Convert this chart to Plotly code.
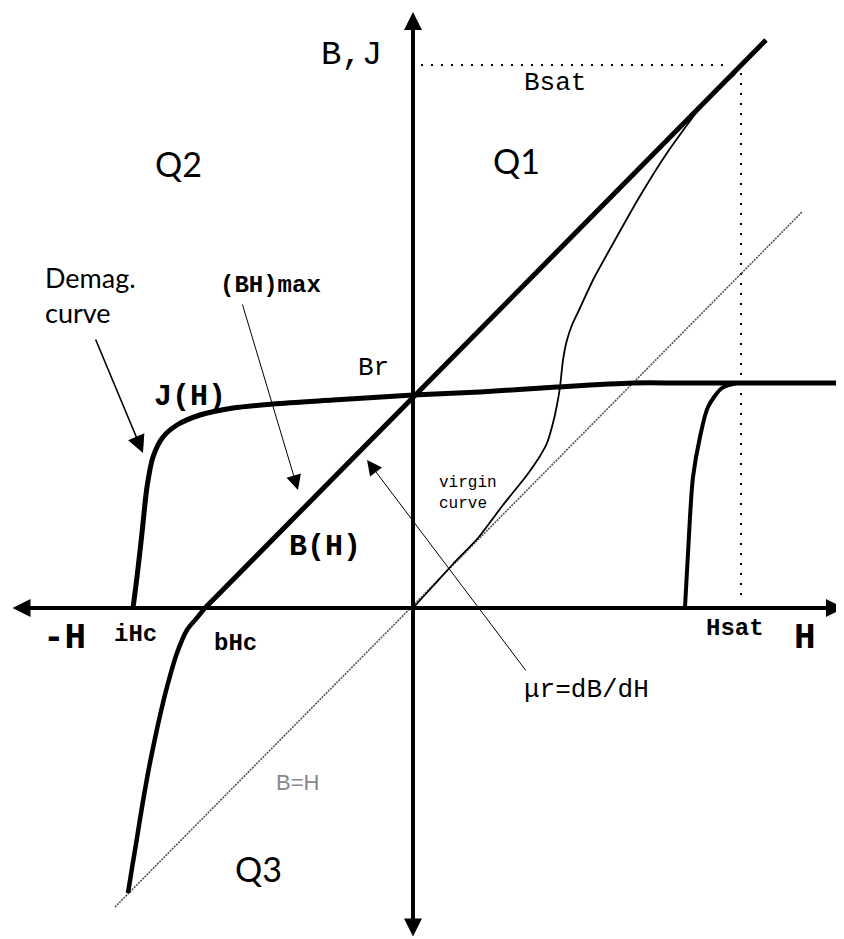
import plotly.graph_objects as go

# --- data (H, B in drawing units, origin at the axis crossing) ---
# straight B(H) line through Br up to saturation
bh_line_h = [-208, 353]
bh_line_b = [0, 568]

# B(H) continued into the third quadrant
bh_q3_h = [-208, -217, -226, -236, -246, -254, -260, -265, -271, -276, -281, -285]
bh_q3_b = [0, -11, -22, -45, -79, -112, -140, -165, -199, -230, -260, -285]

# intrinsic J(H) demag curve, iHc -> Br -> saturation
jh_h = [-280, -276, -271, -266, -260, -250, -236, -213, -180, -140, -80, 0, 67, 144, 220, 267, 320, 431]
jh_j = [0, 31, 75, 121, 151, 171, 183, 193, 200, 204, 208, 213, 216, 221, 225, 225, 225, 225]

# recoil J(H) branch on the positive side
rec_h = [272, 277, 280, 287, 295, 309, 324]
rec_j = [1, 91, 131, 171, 201, 220, 225]

# virgin magnetisation curve
virgin_h = [0, 20, 40, 65, 90, 114, 127, 134, 140, 144, 147, 150, 154, 159, 167, 180, 202, 227, 254, 287, 307, 322]
virgin_b = [0, 22, 44, 70, 103, 133, 152, 165, 185, 203, 221, 248, 268, 283, 300, 328, 368, 412, 455, 500, 521, 534]

# B = H reference line
bh_eq_h = [-298, 389]
bh_eq_b = [-299, 396]

# saturation markers
B_SAT = 543
H_SAT = 328
bsat_h = [8, 317]
hsat_b = [535, 8]

# axis extents
h_axis = [-402, 431]
b_axis = [-330, 596]

MONO = "Courier New, Liberation Mono, monospace"
SANS = "Lato, Open Sans, sans-serif"

fig = go.Figure()

# dotted helpers
fig.add_trace(go.Scatter(x=bsat_h, y=[B_SAT, B_SAT], mode='lines',
                         line=dict(color='black', width=2, dash='2px,8px')))
fig.add_trace(go.Scatter(x=[H_SAT, H_SAT], y=hsat_b, mode='lines',
                         line=dict(color='black', width=2, dash='2px,8px')))
fig.add_trace(go.Scatter(x=bh_eq_h, y=bh_eq_b, mode='lines',
                         line=dict(color='#555', width=1.6, dash='2px,1px')))

# virgin curve (thin)
fig.add_trace(go.Scatter(x=virgin_h, y=virgin_b, mode='lines',
                         line=dict(color='black', width=1.8, shape='spline', smoothing=0.6)))

# thick curves
fig.add_trace(go.Scatter(x=bh_line_h, y=bh_line_b, mode='lines',
                         line=dict(color='black', width=5)))
fig.add_trace(go.Scatter(x=bh_q3_h, y=bh_q3_b, mode='lines',
                         line=dict(color='black', width=4.5, shape='spline', smoothing=0.8)))
fig.add_trace(go.Scatter(x=jh_h, y=jh_j, mode='lines',
                         line=dict(color='black', width=5, shape='spline', smoothing=0.8)))
fig.add_trace(go.Scatter(x=rec_h, y=rec_j, mode='lines',
                         line=dict(color='black', width=4, shape='spline', smoothing=0.8)))

# axes with arrowheads at both ends
fig.add_annotation(x=h_axis[1], y=0, ax=h_axis[0], ay=0, xref='x', yref='y', axref='x', ayref='y',
                   text='', showarrow=True, arrowside='end+start', arrowhead=2, startarrowhead=2,
                   arrowwidth=4, arrowsize=0.9, startarrowsize=0.9, arrowcolor='black', standoff=0)
fig.add_annotation(x=0, y=b_axis[1], ax=0, ay=b_axis[0], xref='x', yref='y', axref='x', ayref='y',
                   text='', showarrow=True, arrowside='end+start', arrowhead=2, startarrowhead=2,
                   arrowwidth=4, arrowsize=0.9, startarrowsize=0.9, arrowcolor='black', standoff=0)

# pointer arrows: (head_x, head_y, tail_x, tail_y, width, head style, size)
pointers = [
    (-270, 155, -318, 270, 1.6, 2, 2.2),   # Demag. curve
    (-115, 118, -171, 305, 1.0, 2, 3.0),   # (BH)max
    (-46, 148, 114, -64, 1.0, 2, 3.0),     # mu_r
]
for hx, hy, tx, ty, w, style, size in pointers:
    fig.add_annotation(x=hx, y=hy, ax=tx, ay=ty, xref='x', yref='y', axref='x', ayref='y',
                       text='', showarrow=True, arrowhead=style, arrowwidth=w, arrowsize=size,
                       arrowcolor='black', standoff=0)

# labels
labels = [
    ("B,J", -62, 553, MONO, 34, 'black', 'center'),
    ("Bsat", 142, 525, MONO, 26, 'black', 'center'),
    ("Q1", 103, 448, SANS, 34, 'black', 'center'),
    ("Q2", -235, 445, SANS, 34, 'black', 'center'),
    ("Q3", -155, -260, SANS, 34, 'black', 'center'),
    ("Demag.<br>curve", -370, 313, SANS, 27, 'black', 'left'),
    ("<b>(BH)max</b>", -143, 323, MONO, 24, 'black', 'center'),
    ("Br", -40, 240, MONO, 26, 'black', 'center'),
    ("<b>J(H)</b>", -223, 211, MONO, 30, 'black', 'center'),
    ("<b>B(H)</b>", -88, 61, MONO, 30, 'black', 'center'),
    ("virgin<br>curve", 24, 115, MONO, 16, 'black', 'left'),
    ("<b>-H</b>", -349, -30, MONO, 36, 'black', 'center'),
    ("<b>iHc</b>", -278, -26, MONO, 24, 'black', 'center'),
    ("<b>bHc</b>", -178, -35, MONO, 24, 'black', 'center'),
    ("<b>Hsat</b>", 322, -20, MONO, 24, 'black', 'center'),
    ("<b>H</b>", 392, -30, MONO, 36, 'black', 'center'),
    ("μr=dB/dH", 173, -82, MONO, 26, 'black', 'center'),
    ("B=H", -116, -174, "Liberation Sans Narrow, Liberation Sans, sans-serif", 22, '#888', 'center'),
]
for txt, x, y, fam, size, col, anchor in labels:
    fig.add_annotation(x=x, y=y, xref='x', yref='y', text=txt, showarrow=False,
                       xanchor=anchor, yanchor='middle', align=anchor,
                       font=dict(family=fam, size=size, color=col))

# the page puts the plot 8px in from the top-left corner, so the figure is
# 8px smaller and the ranges start 8 units later to keep the origin in place
fig.update_layout(
    width=836, height=931,
    margin=dict(l=0, r=0, t=0, b=0),
    showlegend=False,
    plot_bgcolor='white',
    paper_bgcolor='white',
    xaxis=dict(range=[-405, 431], visible=False, fixedrange=True),
    yaxis=dict(range=[-331, 600], visible=False, fixedrange=True),
)

fig.write_html("out.html")
